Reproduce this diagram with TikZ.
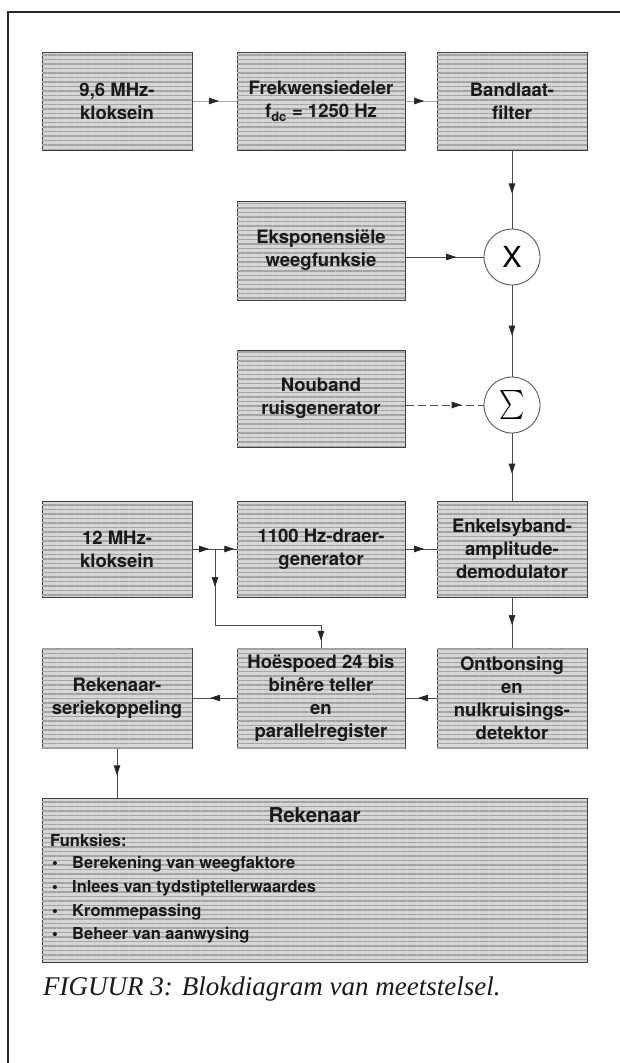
\documentclass[tikz,border=0pt]{standalone}
\usepackage{amsmath}
\usepackage{fontspec}
\setmainfont{Liberation Serif}
\setsansfont{TeX Gyre Heros}
\usetikzlibrary{arrows.meta,decorations.markings,patterns.meta}
\tikzset{
  blk/.style={draw=black!75, line width=1pt, fill=black!16,
    postaction={pattern={Lines[angle=0,distance=4.5pt,line width=1.6pt]}, pattern color=black!36},
    inner sep=0pt, align=center, text=black!90,
    font=\sffamily\bfseries\fontsize{18.5}{23}\selectfont},
  summer/.style={circle, draw=black!65, line width=0.9pt, fill=white, minimum size=56pt, inner sep=0pt},
  conn/.style={draw=black!70, line width=0.7pt},
  faint/.style={draw=black!35, line width=0.5pt},
  midarrow/.style={postaction={decorate}, decoration={markings,
    mark=at position #1 with {\arrow[black!85]{Triangle[length=10pt,width=6.5pt]}}}},
  midarrow/.default=0.5,
  twoarrows/.style 2 args={postaction={decorate}, decoration={markings,
    mark=at position #1 with {\arrow[black!85]{Triangle[length=10pt,width=6.5pt]}},
    mark=at position #2 with {\arrow[black!85]{Triangle[length=10pt,width=6.5pt]}}}},
  listtext/.style={anchor=base west, inner sep=0pt, text=black!90,
    font=\sffamily\bfseries\fontsize{16.5}{20}\selectfont},
}
\begin{document}
\begin{tikzpicture}[x=1pt,y=-1pt]
\useasboundingbox (0,0) rectangle (620,1063);
% frame
\draw[line width=2.5pt, black!85] (8,1063) -- (8,12) -- (620,12);
% row 1
\node[blk, minimum width=150pt, minimum height=98pt] (b1) at (117,101) {9,6 MHz-\\kloksein};
\node[blk, minimum width=168pt, minimum height=98pt] (b2) at (321,101) {Frekwensiedeler\\f\textsubscript{dc} = 1250 Hz};
\node[blk, minimum width=150pt, minimum height=98pt] (b3) at (512,101) {Bandlaat-\\filter};
% weighting
\node[blk, minimum width=168pt, minimum height=99pt] (eks) at (321,250.5) {Eksponensiële\\weegfunksie};
\node[summer, font=\sffamily\fontsize{29}{29}\selectfont] (mul) at (512,257) {X};
% noise
\node[blk, minimum width=168pt, minimum height=97pt] (ruis) at (321,398.5) {Nouband\\ruisgenerator};
\node[summer] (sum) at (512,405) {\scalebox{2.4}[2.9]{$\sum$}};
% row 3
\node[blk, minimum width=150pt, minimum height=96pt] (klok) at (117,549) {12 MHz-\\kloksein};
\node[blk, minimum width=168pt, minimum height=96pt] (gen) at (321,549) {1100 Hz-draer-\\generator};
\node[blk, minimum width=150pt, minimum height=96pt] (demod) at (512,549) {Enkelsyband-\\amplitude-\\demodulator};
% row 4
\node[blk, minimum width=150pt, minimum height=100pt] (serie) at (117,698) {Rekenaar-\\seriekoppeling};
\node[blk, minimum width=168pt, minimum height=100pt] (tel) at (321,698) {Hoëspoed 24 bis\\binêre teller\\en\\parallelregister};
\node[blk, minimum width=150pt, minimum height=100pt] (det) at (512,698) {Ontbonsing\\en\\nulkruisings-\\detektor};
% computer
\node[blk, minimum width=545pt, minimum height=164pt] (rek) at (314.5,880) {};
\node[anchor=base, inner sep=0pt, text=black!90, font=\sffamily\bfseries\fontsize{20.5}{24}\selectfont] (rekt) at (314.5,822) {Rekenaar};
\node[listtext] (fn) at (50,846) {Funksies:};
\node[listtext] (d1) at (52,868) {•};
\node[listtext] (l1) at (72,868) {Berekening van weegfaktore};
\node[listtext] (d2) at (52,892) {•};
\node[listtext] (l2) at (72,892) {Inlees van tydstiptellerwaardes};
\node[listtext] (d3) at (52,916) {•};
\node[listtext] (l3) at (72,916) {Krommepassing};
\node[listtext] (d4) at (52,939) {•};
\node[listtext] (l4) at (72,939) {Beheer van aanwysing};
% caption
\node[anchor=base west, inner sep=0pt, text=black!90, font=\itshape\fontsize{27}{30}\selectfont] (cap) at (43,995) {FIGUUR 3: Blokdiagram van meetstelsel.};
% connectors
\draw[faint, midarrow=0.6] (b1.east) -- (b2.west);
\draw[faint, midarrow=0.6] (b2.east) -- (b3.west);
\draw[conn, midarrow=0.55] (b3.south) -- (mul.north);
\draw[conn, midarrow=0.65] (eks.east |- mul.west) -- (mul.west);
\draw[conn, midarrow=0.55] (mul.south) -- (sum.north);
\draw[conn, dashed, dash pattern=on 8pt off 4pt, midarrow=0.72] (ruis.east |- sum.west) -- (sum.west);
\draw[conn, midarrow=0.6] (sum.south) -- (demod.north);
\coordinate (j) at (215,549);
\coordinate (k1) at (215,625);
\coordinate (k2) at (321,625);
\draw[conn, twoarrows={0.38}{0.95}] (klok.east) -- (gen.west);
\draw[conn, midarrow=0.5] (j) -- (k1);
\draw[conn] (k1) -- (k2);
\draw[conn, midarrow=0.7] (k2) -- (tel.north);
\draw[conn, midarrow=0.6] (gen.east) -- (demod.west);
\draw[conn, midarrow=0.55] (demod.south) -- (det.north);
\draw[conn, midarrow=0.6] (det.west) -- (tel.east);
\draw[conn, midarrow=0.6] (tel.west) -- (serie.east);
\draw[conn, midarrow=0.55] (serie.south) -- (serie.south |- rek.north);
\end{tikzpicture}
\end{document}
